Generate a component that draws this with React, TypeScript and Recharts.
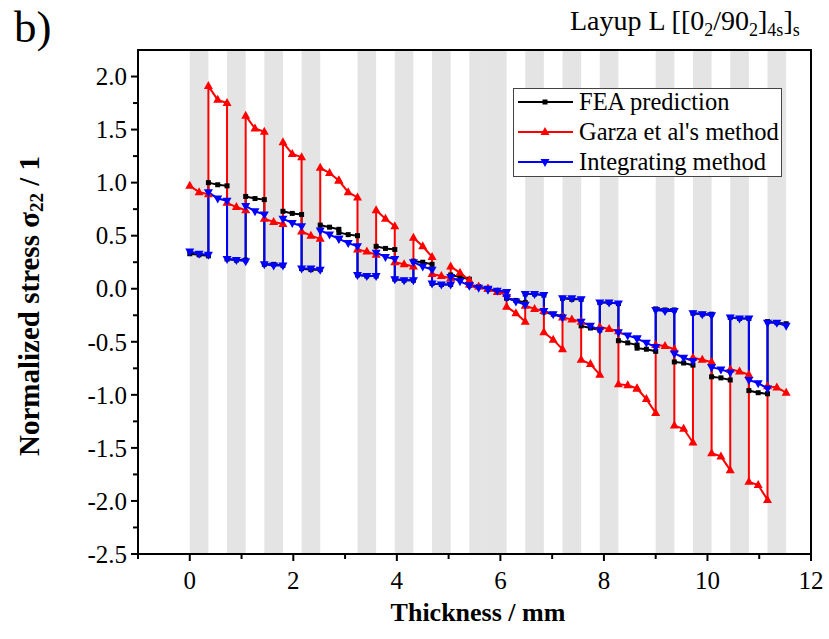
import React from "react";
import { LineChart, Line, XAxis, YAxis, ReferenceArea, Legend, Label } from "recharts";

// ply interfaces through the laminate thickness (mm), 64 plies
const plyInterfaces = [
  0, 0.18, 0.36, 0.54, 0.72, 0.9, 1.08, 1.26, 1.44, 1.62, 1.8, 1.98, 2.16, 2.34, 2.52, 2.7,
  2.88, 3.06, 3.24, 3.42, 3.6, 3.78, 3.96, 4.14, 4.32, 4.5, 4.68, 4.86, 5.04, 5.22, 5.4, 5.58,
  5.76, 5.94, 6.12, 6.3, 6.48, 6.66, 6.84, 7.02, 7.2, 7.38, 7.56, 7.74, 7.92, 8.1, 8.28, 8.46,
  8.64, 8.82, 9.0, 9.18, 9.36, 9.54, 9.72, 9.9, 10.08, 10.26, 10.44, 10.62, 10.8, 10.98, 11.16,
  11.34, 11.52,
];

// orientation of each 2-ply group, [[0_2/90_2]_4s]_s
const groupAngles = [
  0, 90, 0, 90, 0, 90, 0, 90, 90, 0, 90, 0, 90, 0, 90, 0,
  0, 90, 0, 90, 0, 90, 0, 90, 90, 0, 90, 0, 90, 0, 90, 0,
];

// stress at bottom / middle / top of each 2-ply group
const feaValues = [
  [0.33, 0.32, 0.31], [1.0, 0.98, 0.97], [0.28, 0.27, 0.27], [0.87, 0.85, 0.84],
  [0.23, 0.23, 0.22], [0.73, 0.71, 0.7], [0.19, 0.18, 0.18], [0.6, 0.58, 0.56],
  [0.53, 0.51, 0.5], [0.13, 0.12, 0.12], [0.4, 0.38, 0.37], [0.09, 0.08, 0.08],
  [0.26, 0.25, 0.23], [0.05, 0.04, 0.04], [0.13, 0.11, 0.09], [0.03, 0.02, 0.0],
  [0.0, -0.02, -0.03], [-0.09, -0.11, -0.13], [-0.05, -0.05, -0.06], [-0.22, -0.24, -0.26],
  [-0.09, -0.1, -0.1], [-0.35, -0.37, -0.39], [-0.13, -0.13, -0.14], [-0.49, -0.51, -0.53],
  [-0.56, -0.57, -0.59], [-0.19, -0.2, -0.2], [-0.69, -0.7, -0.72], [-0.23, -0.24, -0.24],
  [-0.83, -0.84, -0.86], [-0.27, -0.28, -0.28], [-0.96, -0.98, -0.99], [-0.31, -0.32, -0.33],
];

const garzaValues = [
  [0.97, 0.91, 0.89], [1.91, 1.78, 1.75], [0.81, 0.77, 0.74], [1.63, 1.51, 1.48],
  [0.66, 0.63, 0.61], [1.38, 1.27, 1.24], [0.54, 0.5, 0.47], [1.14, 1.09, 1.02],
  [1.02, 0.91, 0.86], [0.37, 0.35, 0.32], [0.74, 0.66, 0.59], [0.25, 0.23, 0.21],
  [0.48, 0.4, 0.3], [0.14, 0.12, 0.1], [0.21, 0.15, 0.08], [0.04, 0.02, 0.0],
  [0.0, -0.03, -0.05], [-0.17, -0.23, -0.31], [-0.16, -0.19, -0.21], [-0.41, -0.48, -0.57],
  [-0.27, -0.29, -0.31], [-0.67, -0.71, -0.81], [-0.36, -0.38, -0.4], [-0.9, -0.91, -0.94],
  [-0.94, -1.04, -1.17], [-0.53, -0.54, -0.57], [-1.29, -1.32, -1.45], [-0.65, -0.67, -0.69],
  [-1.55, -1.58, -1.71], [-0.76, -0.78, -0.81], [-1.82, -1.85, -1.99], [-0.92, -0.93, -0.98],
];

const integratingValues = [
  [0.35, 0.33, 0.32], [0.91, 0.85, 0.83], [0.28, 0.27, 0.26], [0.78, 0.73, 0.7],
  [0.23, 0.22, 0.22], [0.66, 0.62, 0.59], [0.19, 0.19, 0.18], [0.55, 0.51, 0.47],
  [0.47, 0.43, 0.4], [0.13, 0.12, 0.12], [0.34, 0.3, 0.28], [0.09, 0.08, 0.08],
  [0.25, 0.21, 0.18], [0.05, 0.04, 0.04], [0.11, 0.07, 0.03], [0.03, 0.01, 0.0],
  [-0.01, -0.02, -0.03], [-0.08, -0.12, -0.15], [-0.05, -0.05, -0.06], [-0.21, -0.24, -0.27],
  [-0.09, -0.09, -0.1], [-0.31, -0.35, -0.39], [-0.13, -0.13, -0.14], [-0.41, -0.44, -0.47],
  [-0.47, -0.51, -0.55], [-0.2, -0.21, -0.21], [-0.61, -0.65, -0.68], [-0.23, -0.24, -0.25],
  [-0.74, -0.76, -0.79], [-0.27, -0.28, -0.28], [-0.86, -0.89, -0.94], [-0.32, -0.32, -0.35],
];

const xTicks = [-1, 0, 1, 2, 3, 4, 5, 6, 7, 8, 9, 10, 11, 12];
const xLabels = [0, 2, 4, 6, 8, 10, 12];
const yTicks = [
  -2.5, -2.25, -2, -1.75, -1.5, -1.25, -1, -0.75, -0.5, -0.25, 0, 0.25, 0.5, 0.75, 1, 1.25,
  1.5, 1.75, 2,
];
const yLabels = [-2.5, -2, -1.5, -1, -0.5, 0, 0.5, 1, 1.5, 2];

const legendItems = [
  { name: "FEA prediction", color: "#000000", marker: "square" },
  { name: "Garza et al's method", color: "#ff0000", marker: "up" },
  { name: "Integrating method", color: "#0000ff", marker: "down" },
];

const FONT = "'Liberation Serif', 'Times New Roman', serif";

const toPoints = (vals: number[][]) =>
  vals.flatMap((g, i) => g.map((v, k) => ({ x: plyInterfaces[2 * i + k], y: v })));

const feaData = toPoints(feaValues);
const garzaData = toPoints(garzaValues);
const integratingData = toPoints(integratingValues);

const marker = (kind: string, cx: number, cy: number, color: string, key?: string) => {
  if (kind === "square")
    return <rect key={key} x={cx - 2.5} y={cy - 2.5} width={5} height={5} fill={color} />;
  if (kind === "up")
    return <path key={key} d={`M${cx},${cy - 5}L${cx + 4.5},${cy + 3}L${cx - 4.5},${cy + 3}Z`} fill={color} />;
  return <path key={key} d={`M${cx},${cy + 5}L${cx + 4.5},${cy - 3}L${cx - 4.5},${cy - 3}Z`} fill={color} />;
};

const dotFor = (kind: string, color: string) => (p: any) =>
  marker(kind, p.cx, p.cy, color, `${kind}-${p.index}`);

const XTick = (props: any) => {
  const { x, y, payload } = props;
  const v = payload.value;
  const labelled = xLabels.includes(v);
  return (
    <g>
      <line x1={x} x2={x} y1={y} y2={y + (labelled ? 7 : 5)} stroke="#000" strokeWidth={2} />
      {labelled && (
        <text x={x} y={y + 35} textAnchor="middle" fontSize={25} fontFamily={FONT} fill="#000">
          {v}
        </text>
      )}
    </g>
  );
};

const YTick = (props: any) => {
  const { x, y, payload } = props;
  const v = payload.value;
  const labelled = yLabels.includes(v);
  return (
    <g>
      <line x1={x} x2={x - (labelled ? 7 : 5)} y1={y} y2={y} stroke="#000" strokeWidth={2} />
      {labelled && (
        <text x={x - 11} y={y} dy="0.35em" textAnchor="end" fontSize={25} fontFamily={FONT} fill="#000">
          {v.toFixed(1)}
        </text>
      )}
    </g>
  );
};

const LegendBox = () => (
  <svg width={270} height={90} style={{ display: "block" }}>
    <rect x={0.5} y={0.5} width={268} height={88} fill="#fff" stroke="#444" strokeWidth={1} />
    {legendItems.map((item, i) => {
      const cy = 14 + i * 30;
      return (
        <g key={item.name}>
          <line x1={5} x2={60} y1={cy} y2={cy} stroke={item.color} strokeWidth={2} />
          {marker(item.marker, 32, cy, item.color)}
          <text x={66} y={cy + 8} fontSize={24.5} fontFamily={FONT} fill="#000">
            {item.name}
          </text>
        </g>
      );
    })}
  </svg>
);

export default function App() {
  const bands = groupAngles
    .map((a, i) => ({ a, x1: plyInterfaces[2 * i], x2: plyInterfaces[2 * i + 2] }))
    .filter((b) => b.a === 0);

  return (
    <div style={{ position: "absolute", left: 0, top: 0, width: 829, height: 639, background: "#fff" }}>
      <LineChart width={829} height={639} margin={{ top: 50, right: 18, bottom: 45, left: 78 }}>
        {bands.map((b, i) => (
          <ReferenceArea
            key={i}
            x1={b.x1}
            x2={b.x2}
            y1={-2.5}
            y2={2.25}
            fill="#e4e4e4"
            fillOpacity={1}
            stroke="none"
          />
        ))}
        <XAxis
          type="number"
          dataKey="x"
          domain={[-1, 12]}
          ticks={xTicks}
          allowDataOverflow
          height={40}
          tickSize={0}
          tickMargin={0}
          axisLine={false}
          tickLine={false}
          tick={<XTick />}
          interval={0}
        >
          <Label
            content={() => (
              <text x={478} y={621} textAnchor="middle" fontSize={26} fontWeight="bold" fontFamily={FONT} fill="#000">
                Thickness / mm
              </text>
            )}
          />
        </XAxis>
        <YAxis
          type="number"
          domain={[-2.5, 2.25]}
          ticks={yTicks}
          allowDataOverflow
          width={60}
          tickSize={0}
          tickMargin={0}
          axisLine={false}
          tickLine={false}
          tick={<YTick />}
          interval={0}
        >
          <Label
            content={() => (
              <text
                x={29}
                y={306}
                transform="rotate(-90 29 306)"
                textAnchor="middle"
                dominantBaseline="central"
                fontSize={29}
                fontWeight="bold"
                fontFamily={FONT}
                fill="#000"
              >
                Normalized stress σ<tspan dy={7} fontSize={19}>22</tspan>
                <tspan dy={-7}> / 1</tspan>
              </text>
            )}
          />
        </YAxis>
        <ReferenceArea x1={-1} x2={12} y1={-2.5} y2={2.25} fill="none" stroke="#000" strokeWidth={2} />
        <Line
          data={feaData}
          dataKey="y"
          name="FEA prediction"
          type="linear"
          stroke="#000000"
          strokeWidth={2}
          dot={dotFor("square", "#000000")}
          isAnimationActive={false}
        />
        <Line
          data={garzaData}
          dataKey="y"
          name="Garza et al's method"
          type="linear"
          stroke="#ff0000"
          strokeWidth={2}
          dot={dotFor("up", "#ff0000")}
          isAnimationActive={false}
        />
        <Line
          data={integratingData}
          dataKey="y"
          name="Integrating method"
          type="linear"
          stroke="#0000ff"
          strokeWidth={2}
          dot={dotFor("down", "#0000ff")}
          isAnimationActive={false}
        />
        <Legend
          layout="vertical"
          align="center"
          verticalAlign="middle"
          content={() => <LegendBox />}
          wrapperStyle={{ left: 513, top: 88, width: 270, height: 90 }}
        />
      </LineChart>
      <svg width={829} height={60} style={{ position: "absolute", left: 0, top: 0, pointerEvents: "none" }}>
        <text x={14} y={42} fontSize={45} fontFamily={FONT} fill="#000">
          b)
        </text>
        <text x={570} y={30} fontSize={28} fontFamily={FONT} fill="#000">
          Layup L [[0<tspan dy={6} fontSize={18}>2</tspan>
          <tspan dy={-6}>/90</tspan>
          <tspan dy={6} fontSize={18}>2</tspan>
          <tspan dy={-6}>]</tspan>
          <tspan dy={6} fontSize={18}>4s</tspan>
          <tspan dy={-6}>]</tspan>
          <tspan dy={6} fontSize={18}>s</tspan>
        </text>
      </svg>
    </div>
  );
}
